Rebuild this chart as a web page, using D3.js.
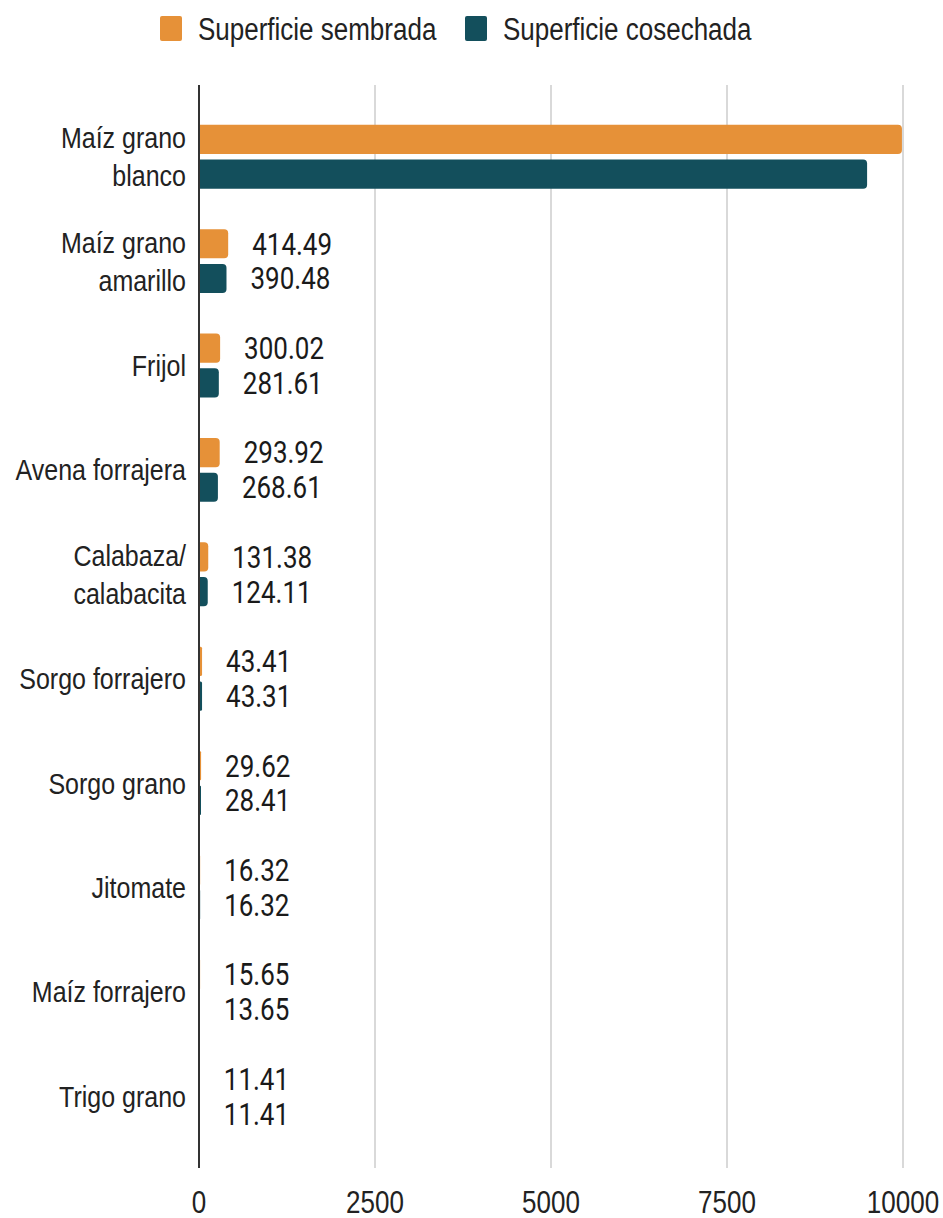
<!DOCTYPE html>
<html>
<head>
<meta charset="utf-8">
<script src="https://cdn.jsdelivr.net/npm/d3@7"></script>
<style>
  body { margin: 0; background: #fff; }
  svg { display: block; }
</style>
</head>
<body>
<script>
// Data
var categories = ["Maíz grano blanco", "Maíz grano amarillo", "Frijol", "Avena forrajera",
  "Calabaza/calabacita", "Sorgo forrajero", "Sorgo grano", "Jitomate", "Maíz forrajero", "Trigo grano"];
var sembrada = [9985, 414.49, 300.02, 293.92, 131.38, 43.41, 29.62, 16.32, 15.65, 11.41];
var cosechada = [9490, 390.48, 281.61, 268.61, 124.11, 43.31, 28.41, 16.32, 13.65, 11.41];
var seriesNames = ["Superficie sembrada", "Superficie cosechada"];
var colors = ["#e69138", "#134f5c"];
var xTicks = [0, 2500, 5000, 7500, 10000];

var svgWidth = 943;
var svgHeight = 1218;
var plot = { left: 199, right: 903, top: 85, bottom: 1168 };
var stretch = 1.2; // text in the reference is drawn a bit taller than wide

var svg = d3.select("body").append("svg")
  .attr("width", svgWidth)
  .attr("height", svgHeight);

var x = d3.scaleLinear().domain([0, 10000]).range([plot.left, plot.right]);
var y = d3.scaleBand().domain(categories).range([plot.top, plot.bottom])
  .paddingInner(0).paddingOuter(0.187);
var ySub = d3.scaleBand().domain([0, 1]).range([-33, 33]).paddingInner(0.16).paddingOuter(0.03);

// helper for stretched text
function addText(g, str, tx, ty, opts) {
  return g.append("text")
    .attr("transform", "translate(" + tx + "," + ty + ") scale(1," + stretch + ")")
    .attr("dy", "0.35em")
    .attr("text-anchor", opts.anchor || "start")
    .style("font-family", opts.font || "'Liberation Sans', Arial, sans-serif")
    .style("font-size", (opts.size || 25) + "px")
    .style("fill", opts.fill || "#222")
    .text(str);
}

// gridlines
svg.append("g").selectAll("line")
  .data(xTicks.slice(1))
  .enter().append("line")
  .attr("x1", d => x(d)).attr("x2", d => x(d))
  .attr("y1", plot.top).attr("y2", plot.bottom)
  .attr("stroke", "#cccccc").attr("stroke-width", 1.5);

// tick labels
var tickG = svg.append("g");
xTicks.forEach(function(t) {
  addText(tickG, t, x(t), 1202, { anchor: "middle", size: 26 });
});

// bars with rounded right end
function barPath(x0, x1, y0, h, r) {
  var w = x1 - x0;
  r = Math.min(r, w / 2, h / 2);
  return "M" + x0 + "," + y0 +
    "H" + (x1 - r) +
    "Q" + x1 + "," + y0 + " " + x1 + "," + (y0 + r) +
    "V" + (y0 + h - r) +
    "Q" + x1 + "," + (y0 + h) + " " + (x1 - r) + "," + (y0 + h) +
    "H" + x0 + "Z";
}

var series = [sembrada, cosechada];
var barG = svg.append("g");
var labelG = svg.append("g");
series.forEach(function(vals, s) {
  barG.selectAll(".bar" + s)
    .data(vals)
    .enter().append("path")
    .attr("d", (d, i) => barPath(x(0), x(d),
      y(categories[i]) + y.bandwidth() / 2 + ySub(s), ySub.bandwidth(), 4))
    .attr("fill", colors[s]);

  vals.forEach(function(v, i) {
    var cy = y(categories[i]) + y.bandwidth() / 2 + ySub(s) + ySub.bandwidth() / 2;
    var t = addText(labelG, d3.format(".2f")(v), x(v) + 24, cy,
      { size: 26, font: "Roboto, 'Liberation Sans', sans-serif", fill: "#1a1a1a" });
    // labels that would run past the plot are not shown
    if (x(v) + 24 + t.node().getComputedTextLength() > plot.right) t.remove();
  });
});

// zero axis line
svg.append("line")
  .attr("x1", x(0)).attr("x2", x(0))
  .attr("y1", plot.top).attr("y2", plot.bottom)
  .attr("stroke", "#333").attr("stroke-width", 2);

// category labels, wrapped to fit on the left
var catG = svg.append("g");
var lineGap = 38;
categories.forEach(function(c) {
  var words = c.replace("/", "/ ").split(" ").filter(w => w.length);
  var probe = addText(catG, "", 0, -100, {});
  var lines = [], cur = "";
  words.forEach(function(w) {
    var join = cur === "" ? w : (cur.endsWith("/") ? cur + w : cur + " " + w);
    probe.text(join);
    if (cur !== "" && probe.node().getComputedTextLength() > 180) {
      lines.push(cur); cur = w;
    } else cur = join;
  });
  lines.push(cur);
  probe.remove();
  var cy = y(c) + y.bandwidth() / 2;
  lines.forEach(function(l, k) {
    addText(catG, l, 186, cy + (k - (lines.length - 1) / 2) * lineGap, { anchor: "end" });
  });
});

// legend
var legend = svg.append("g");
var legendX = [160, 465];
seriesNames.forEach(function(n, s) {
  legend.append("rect")
    .attr("x", legendX[s]).attr("y", 16)
    .attr("width", 22).attr("height", 25)
    .attr("rx", 2)
    .attr("fill", colors[s]);
  addText(legend, n, legendX[s] + 38, 29, { size: 26 });
});
</script>
</body>
</html>
